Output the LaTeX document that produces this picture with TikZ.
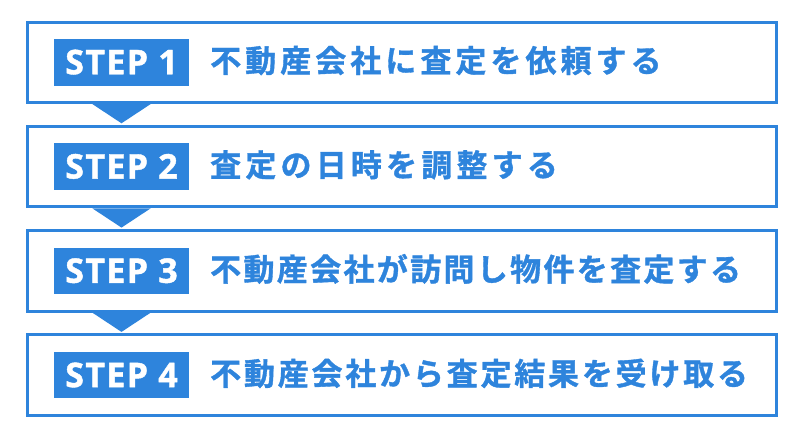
\documentclass[tikz,border=0pt]{standalone}
\usepackage{fontspec}
\usetikzlibrary{calc}
\newfontfamily\jpfont[FakeBold=1.2]{Noto Sans CJK JP Bold}
\newfontfamily\stepfont[LetterSpace=4,FakeBold=1.2]{Open Sans Bold}
\definecolor{stepblue}{RGB}{46,132,220}
\begin{document}
\begin{tikzpicture}[x=1pt,y=-1pt,
  box/.style={draw=stepblue, line width=3pt, minimum width=749.5pt, minimum height=80.5pt, anchor=north west, inner sep=0pt},
  steplabel/.style={fill=stepblue, text=white, minimum width=135pt, minimum height=46.5pt, inner sep=0pt,
    font=\stepfont\fontsize{34}{34}\selectfont, text height=24pt, text depth=0pt},
  steptext/.style={text=stepblue, font=\jpfont\fontsize{31}{31}\selectfont, anchor=base west, inner sep=0pt},
  arrowtri/.style={fill=stepblue}]
\useasboundingbox (0,0) rectangle (800,434);
\foreach \i/\t/\ls/\txt in {1/20.5/13/{不動産会社に査定を依頼する},
                        2/124.8/13.5/{査定の日時を調整する},
                        3/229.1/7.5/{不動産会社が訪問し物件を査定する},
                        4/333.4/9/{不動産会社から査定結果を受け取る}}{
  \node[box] (box\i) at (25.5,\t) {};
  \node[steplabel] (lab\i) at ([xshift=96pt]box\i.west) {STEP \i};
  \node[steptext] (txt\i) at ([xshift=184.5pt,yshift=-10pt]box\i.west) {\addfontfeature{LetterSpace=\ls}\txt};
}
\foreach \i/\j in {1/2,2/3,3/4}{
  \fill[arrowtri] ($(lab\i.center |- box\i.south)+(-29.25,0)$) -- ($(lab\i.center |- box\i.south)+(29.25,0)$)
     -- ($(lab\i.center |- box\j.north)+(0,-1.5)$) -- cycle;
}
\end{tikzpicture}
\end{document}
